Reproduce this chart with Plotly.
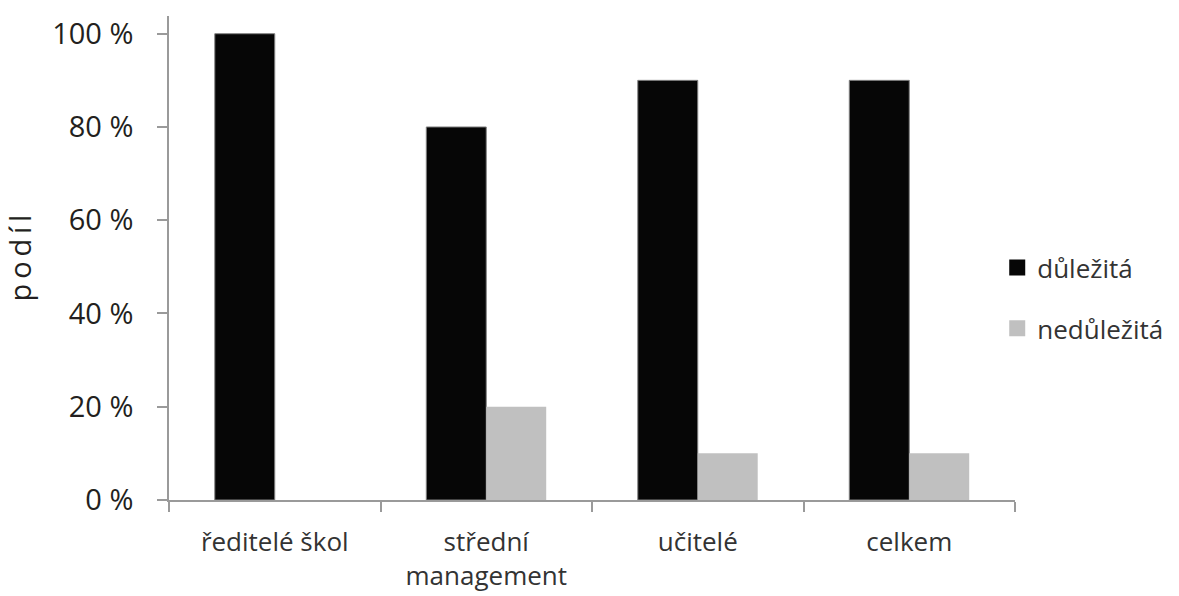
import plotly.graph_objects as go

# Survey results: share of respondents per group
categories = ["ředitelé škol", "střední<br>management", "učitelé", "celkem"]
important = [100, 80, 90, 90]        # důležitá
unimportant = [0, 20, 10, 10]        # nedůležitá
y_ticks = [0, 20, 40, 60, 80, 100]
y_tick_labels = [f"{v} %" for v in y_ticks]

BLACK = "#060606"
GREY = "#c0c0c0"
AXIS = "#9a9a9a"
TEXT = "#231f20"

fig = go.Figure()
fig.add_trace(go.Bar(x=categories, y=important, name="důležitá",
                     marker=dict(color=BLACK, line=dict(color="#808080", width=1)),
                     showlegend=False))
fig.add_trace(go.Bar(x=categories, y=unimportant, name="nedůležitá",
                     marker=dict(color=GREY, line=dict(width=0)),
                     showlegend=False))

# legend entries with larger square swatches
for name, col, grp in [("důležitá", BLACK, "a"), ("nedůležitá", GREY, "b")]:
    fig.add_trace(go.Scatter(x=[None], y=[None], mode="markers", name=name,
                             legendgroup=grp,
                             marker=dict(symbol="square", size=20, color=col)))

fig.update_layout(
    width=1179, height=596,
    margin=dict(l=169, r=164, t=16, b=96, autoexpand=False),
    paper_bgcolor="white", plot_bgcolor="white",
    barmode="group", bargap=0.433, bargroupgap=0,
    font=dict(family="Open Sans", color=TEXT),
    legend=dict(x=0.979, y=0.417, xanchor="left", yanchor="middle",
                font=dict(size=26, family="Open Sans", color="#333333"),
                traceorder="grouped", tracegroupgap=24,
                itemwidth=30, bgcolor="rgba(0,0,0,0)"),
    xaxis=dict(
        automargin=False,
        showline=True, linecolor=AXIS, linewidth=1.5,
        ticks="outside", tickson="boundaries", ticklen=10,
        tickcolor=AXIS, tickwidth=1.5,
        ticklabelstandoff=18,
        tickfont=dict(size=26, family="Open Sans", color="#333333"),
        showgrid=False, zeroline=False,
    ),
    yaxis=dict(
        automargin=False,
        range=[0, 103.8], tickvals=y_ticks, ticktext=y_tick_labels,
        showline=True, linecolor=AXIS, linewidth=1.5,
        ticks="outside", ticklen=10, tickcolor=AXIS, tickwidth=1.5,
        ticklabelstandoff=18,
        tickfont=dict(size=29, family="Open Sans", color=TEXT),
        showgrid=False, zeroline=False,
        title=dict(text="p\u2009o\u2009d\u2009í\u2009l", standoff=12,
                   font=dict(size=29, family="Open Sans", color=TEXT)),
    ),
)

fig.write_html("out.html")
